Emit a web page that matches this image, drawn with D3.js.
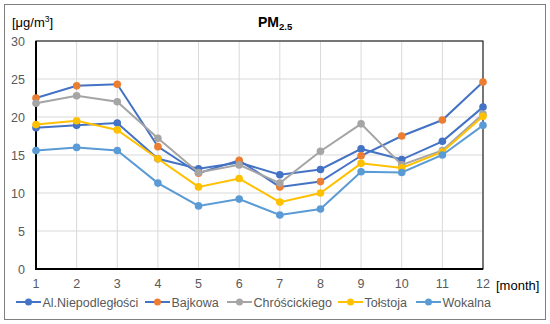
<!DOCTYPE html>
<head>
<meta charset="utf-8">
<style>
body { margin: 0; background: #fff; }
text { font-family: "Liberation Sans", Arial, sans-serif; }
.grid line { stroke: #d9d9d9; stroke-width: 1px; }
.tick-label { font-size: 12.5px; fill: #595959; }
.legend text { font-size: 12.5px; fill: #595959; }
</style>
</head>
<body>
<svg width="550" height="324"></svg>
<script src="https://cdn.jsdelivr.net/npm/d3@7"></script>
<script>

var months = [1, 2, 3, 4, 5, 6, 7, 8, 9, 10, 11, 12];
var yTicks = [0, 5, 10, 15, 20, 25, 30];

var seriesNames = ["Al.Niepodległości", "Bajkowa", "Chróścickiego", "Tołstoja", "Wokalna"];
var niepodleglosci = [18.6, 18.9, 19.2, 14.5, 13.2, 14.0, 12.4, 13.1, 15.8, 14.4, 16.8, 21.3];
var bajkowa        = [22.5, 24.1, 24.3, 16.1, 12.6, 14.3, 10.8, 11.5, 14.9, 17.5, 19.6, 24.6];
var chroscickiego  = [21.8, 22.8, 22.0, 17.2, 12.7, 13.7, 11.3, 15.5, 19.1, 13.7, 15.6, 20.4];
var tolstoja       = [19.0, 19.5, 18.3, 14.5, 10.8, 11.9, 8.8, 10.0, 13.9, 13.3, 15.4, 20.1];
var wokalna        = [15.6, 16.0, 15.6, 11.3, 8.3, 9.2, 7.1, 7.9, 12.8, 12.7, 15.0, 18.9];

var lineColors   = ["#4472c4", "#4472c4", "#a5a5a5", "#ffc000", "#5b9bd5"];
var markerColors = ["#4472c4", "#ed7d31", "#a5a5a5", "#ffc000", "#5b9bd5"];

var allValues = [niepodleglosci, bajkowa, chroscickiego, tolstoja, wokalna];

var svg = d3.select("svg");
var pLeft = 36, pRight = 483, pTop = 41, pBottom = 269;

var x = d3.scaleLinear().domain([1, 12]).range([pLeft, pRight]);
var y = d3.scaleLinear().domain([0, 30]).range([pBottom, pTop]);

// outer frame
svg.append("rect")
    .attr("x", 4.5).attr("y", 4.5).attr("width", 541).attr("height", 315)
    .attr("fill", "none").attr("stroke", "#7f7f7f").attr("stroke-width", 1);

// grid
var grid = svg.append("g").attr("class", "grid");
grid.selectAll(".v").data(months).enter().append("line")
    .attr("x1", function(d) { return x(d); }).attr("x2", function(d) { return x(d); })
    .attr("y1", pTop).attr("y2", pBottom);
grid.selectAll(".h").data(yTicks).enter().append("line")
    .attr("y1", function(d) { return y(d); }).attr("y2", function(d) { return y(d); })
    .attr("x1", pLeft).attr("x2", pRight);

// plot border
svg.append("rect")
    .attr("x", pLeft).attr("y", pTop).attr("width", pRight - pLeft).attr("height", pBottom - pTop)
    .attr("fill", "none").attr("stroke", "#000").attr("stroke-width", 1);
svg.append("path")
    .attr("d", "M" + pLeft + "," + pTop + "V" + pBottom + "H" + pRight)
    .attr("fill", "none").attr("stroke", "#000").attr("stroke-width", 2);

// tick labels
svg.selectAll(".ylab").data(yTicks).enter().append("text")
    .attr("class", "tick-label")
    .attr("x", 25).attr("y", function(d) { return y(d) + 4.5; })
    .attr("text-anchor", "end")
    .text(function(d) { return d; });
svg.selectAll(".xlab").data(months).enter().append("text")
    .attr("class", "tick-label")
    .attr("x", function(d) { return x(d); }).attr("y", 288)
    .attr("text-anchor", "middle")
    .text(function(d) { return d; });

svg.append("text").attr("x", 496).attr("y", 290)
    .style("font-size", "13px").attr("fill", "#000").text("[month]");

var unit = svg.append("text").attr("x", 12).attr("y", 27)
    .style("font-size", "13px").attr("fill", "#000");
unit.append("tspan").text("[μg/m");
unit.append("tspan").attr("dy", -5).style("font-size", "8.5px").text("3");
unit.append("tspan").attr("dy", 5).text("]");

var title = svg.append("text").attr("x", 258).attr("y", 27)
    .style("font-size", "14px").style("font-weight", "bold").attr("fill", "#000");
title.append("tspan").text("PM");
title.append("tspan").attr("dy", 3).style("font-size", "9.5px").text("2.5");

// lines
var line = d3.line()
    .x(function(d, i) { return x(months[i]); })
    .y(function(d) { return y(d); });

allValues.forEach(function(vals, s) {
  var g = svg.append("g");
  g.append("path").attr("d", line(vals))
      .attr("fill", "none").attr("stroke", lineColors[s]).attr("stroke-width", 2);
  g.selectAll("circle").data(vals).enter().append("circle")
      .attr("cx", function(d, i) { return x(months[i]); })
      .attr("cy", function(d) { return y(d); })
      .attr("r", 3.8).attr("fill", markerColors[s]);
});

// legend
var legendX = [16, 145, 227, 338, 416];
var legend = svg.append("g").attr("class", "legend");
seriesNames.forEach(function(name, s) {
  var gx = legendX[s];
  legend.append("line").attr("x1", gx).attr("x2", gx + 25).attr("y1", 302).attr("y2", 302)
      .attr("stroke", lineColors[s]).attr("stroke-width", 2);
  legend.append("circle").attr("cx", gx + 12.5).attr("cy", 302).attr("r", 3.5).attr("fill", markerColors[s]);
  legend.append("text").attr("x", gx + 26.5).attr("y", 306.5).text(name);
});

</script>
</body>
